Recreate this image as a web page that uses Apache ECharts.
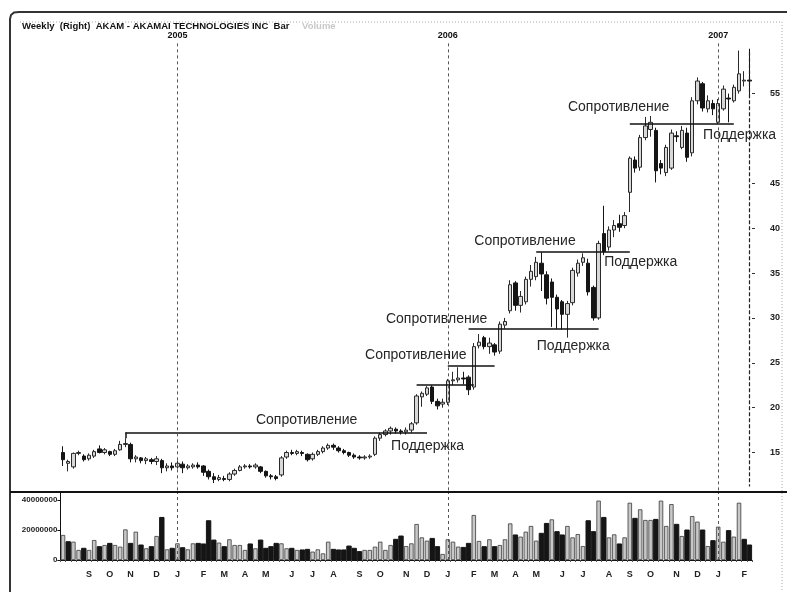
<!DOCTYPE html>
<html>
<head>
<meta charset="utf-8">
<script src="https://cdn.jsdelivr.net/npm/echarts@6/dist/echarts.min.js"></script>
<style>
  html, body { margin: 0; padding: 0; background: #fff; }
  #chart { width: 787px; height: 592px; }
</style>
</head>
<body>
<div id="chart"></div>
<script>
// weekly bars, AKAM, Aug 2004 - Feb 2007
var firstWeek = '2004-08-02';
var opens = [
  15.0, 13.8, 13.4, 14.9, 14.6, 14.3, 14.6, 15.4, 15.0, 15.1,
  14.8, 15.3, 15.9, 15.9, 14.3, 14.4, 14.1, 14.2, 14.0, 14.1,
  13.3, 13.5, 13.4, 13.7, 13.3, 13.4, 13.6, 13.5, 12.9, 12.3,
  12.0, 12.1, 12.0, 12.6, 13.0, 13.4, 13.5, 13.4, 13.4, 12.9,
  12.4, 12.3, 12.5, 14.5, 15.0, 14.9, 15.0, 14.8, 14.3, 14.8,
  15.1, 15.5, 15.8, 15.5, 15.2, 15.0, 14.7, 14.5, 14.4, 14.5,
  14.8, 16.6, 17.0, 17.4, 17.6, 17.4, 17.3, 17.5, 18.3, 21.2,
  21.5, 22.3, 20.7, 20.4, 20.6, 23.0, 23.1, 23.3, 23.4, 22.3,
  26.9, 27.8, 26.8, 27.0, 26.3, 29.2, 30.8, 33.9, 31.4, 31.8,
  34.3, 34.6, 36.1, 34.8, 34.0, 32.3, 31.8, 30.4, 31.7, 35.0,
  36.2, 36.1, 33.4, 30.0, 39.4, 37.9, 39.8, 40.5, 40.3, 44.0,
  47.6, 46.8, 50.1, 51.0, 50.9, 47.2, 46.2, 46.7, 50.3, 49.0,
  50.6, 48.4, 54.2, 56.1, 53.3, 53.9, 51.8, 53.3, 54.5, 54.2,
  55.3, 56.4, 56.5
];
var closes = [
  14.2, 14.0, 14.9, 15.0, 14.2, 14.7, 15.1, 15.0, 15.3, 14.8,
  15.2, 15.9, 16.0, 14.3, 14.5, 14.1, 14.3, 14.0, 14.3, 13.3,
  13.5, 13.3, 13.8, 13.3, 13.5, 13.6, 13.4, 12.8, 12.3, 12.0,
  12.2, 12.0, 12.6, 13.0, 13.4, 13.5, 13.4, 13.6, 12.9, 12.4,
  12.3, 12.1, 14.4, 15.0, 14.9, 15.1, 14.9, 14.2, 14.8, 15.1,
  15.5, 15.8, 15.6, 15.2, 15.0, 14.7, 14.5, 14.4, 14.5, 14.6,
  16.6, 17.0, 17.4, 17.7, 17.4, 17.3, 17.5, 18.2, 21.3, 21.6,
  22.2, 20.7, 20.2, 20.6, 23.0, 23.1, 23.3, 23.2, 22.0, 26.8,
  27.3, 26.8, 27.2, 26.2, 29.3, 29.6, 33.7, 31.4, 32.4, 34.3,
  35.2, 36.2, 34.9, 32.2, 32.3, 31.0, 30.4, 31.6, 35.3, 36.1,
  36.7, 32.9, 30.0, 38.3, 37.4, 39.8, 40.3, 40.1, 41.4, 47.8,
  46.7, 50.1, 51.4, 51.8, 46.4, 46.7, 49.0, 50.6, 50.2, 50.9,
  47.9, 54.2, 56.4, 53.4, 54.2, 53.3, 53.9, 55.5, 54.4, 55.7,
  57.2, 56.5, 56.4
];
var lows = [
  13.5, 12.9, 13.2, 14.7, 14.0, 14.1, 14.4, 14.9, 14.8, 14.6,
  14.6, 15.2, 15.6, 13.9, 13.9, 13.8, 13.7, 13.7, 13.6, 12.7,
  12.9, 13.0, 13.2, 12.7, 13.1, 13.2, 13.2, 12.4, 12.0, 11.6,
  11.8, 11.8, 11.8, 12.4, 12.9, 13.2, 13.2, 13.2, 12.7, 12.2,
  12.0, 11.9, 12.3, 14.3, 14.7, 14.7, 14.6, 14.0, 14.1, 14.6,
  14.9, 15.3, 15.3, 15.0, 14.8, 14.5, 14.3, 14.2, 14.2, 14.3,
  14.6, 16.3, 16.8, 17.0, 17.1, 17.0, 17.0, 17.2, 18.1, 20.1,
  21.3, 20.4, 19.8, 20.0, 20.3, 22.5, 22.8, 22.6, 21.4, 22.0,
  26.6, 26.5, 26.0, 25.8, 26.0, 28.8, 30.5, 30.8, 30.6, 31.5,
  33.5, 34.2, 33.0, 31.5, 29.0, 28.8, 28.7, 27.8, 31.4, 34.6,
  35.8, 32.5, 29.7, 29.8, 37.0, 37.5, 39.0, 39.6, 40.0, 41.8,
  46.2, 46.4, 49.8, 50.2, 45.1, 46.0, 45.8, 46.5, 49.6, 48.8,
  47.4, 48.0, 53.8, 53.0, 52.9, 52.6, 51.6, 53.1, 51.8, 54.0,
  55.0, 55.8, 54.5
];
var highs = [
  15.7, 14.2, 15.0, 15.2, 14.8, 14.9, 15.3, 15.8, 15.5, 15.2,
  15.4, 16.3, 16.6, 16.1, 14.7, 14.5, 14.5, 14.4, 14.6, 14.3,
  13.8, 13.9, 14.1, 14.0, 13.7, 13.8, 13.9, 13.6, 13.1, 12.7,
  12.5, 12.4, 12.8, 13.2, 13.6, 13.7, 13.7, 13.8, 13.5, 13.0,
  12.6, 12.5, 14.6, 15.2, 15.3, 15.3, 15.2, 14.9, 15.0, 15.3,
  15.7, 16.0, 16.0, 15.7, 15.4, 15.1, 14.9, 14.7, 14.7, 14.8,
  16.8, 17.2, 17.6, 17.9, 17.8, 17.6, 17.8, 18.4, 21.5, 21.8,
  22.4, 22.5, 21.0, 21.0, 23.2, 24.0, 24.5, 24.0, 23.6, 27.2,
  28.2, 28.0, 27.8, 27.2, 29.6, 30.0, 34.2, 34.1, 33.0, 34.6,
  35.9, 36.8, 37.3, 35.2, 34.4, 32.6, 32.0, 31.9, 35.6, 36.5,
  37.2, 36.6, 33.6, 38.6, 42.5, 40.2, 40.9, 41.5, 41.8, 48.0,
  48.0, 50.4, 52.4, 52.5, 51.2, 47.6, 49.3, 51.0, 50.8, 51.4,
  51.2, 54.6, 56.8, 56.3, 54.8, 54.3, 54.4, 55.9, 55.0, 56.0,
  59.8, 57.5, 60.0
];
// volume in millions of shares
var volumes = [
  16.7, 12.2, 12.2, 6.7, 7.8, 6.7, 13.3, 8.9, 10.0, 11.1,
  10.0, 8.9, 20.4, 11.1, 18.9, 10.0, 7.8, 8.9, 16.0, 28.4,
  7.1, 7.8, 11.1, 8.2, 7.1, 11.1, 11.1, 10.7, 26.2, 13.3,
  11.6, 8.9, 13.8, 10.0, 10.0, 6.7, 10.7, 7.8, 13.3, 7.8,
  8.9, 11.1, 11.1, 7.8, 7.8, 6.7, 6.7, 7.1, 5.6, 7.1,
  4.4, 12.2, 7.1, 6.7, 6.7, 9.3, 7.8, 5.6, 6.7, 6.7,
  8.9, 12.2, 6.7, 10.0, 13.8, 16.0, 9.3, 11.1, 24.0, 15.1,
  12.9, 14.4, 8.9, 4.0, 13.8, 12.2, 8.9, 8.4, 11.1, 30.0,
  12.7, 8.9, 13.8, 8.9, 10.0, 13.8, 24.4, 16.7, 15.6, 18.9,
  22.7, 12.9, 17.8, 24.4, 27.1, 18.9, 16.7, 22.7, 15.1, 17.3,
  9.3, 26.2, 18.9, 39.6, 28.4, 15.1, 17.1, 10.7, 15.1, 38.2,
  27.8, 33.8, 26.7, 26.7, 27.1, 39.6, 22.7, 37.3, 23.8, 16.0,
  20.0, 29.3, 25.6, 20.0, 9.3, 12.9, 22.2, 12.2, 19.6, 15.6,
  38.2, 13.8, 10.0
];
var priceTicks = [15, 20, 25, 30, 35, 40, 45, 55];
var volumeTicks = [0, 20000000, 40000000];
var monthLetters = ['J', 'F', 'M', 'A', 'M', 'J', 'J', 'A', 'S', 'O', 'N', 'D'];
// [from week, to week, price]
var levels = [
  [12, 70, 17.22],
  [68, 79, 22.56],
  [74, 83, 24.67],
  [78, 103, 28.78],
  [91, 109, 37.33],
  [109, 129, 51.67]
];
// [text, week, price]
var notes = [
  ['Сопротивление', 37, 18.6],
  ['Поддержка', 63, 15.7],
  ['Сопротивление', 58, 25.9],
  ['Сопротивление', 62, 29.9],
  ['Поддержка', 91, 26.9],
  ['Сопротивление', 79, 38.6],
  ['Поддержка', 104, 36.2],
  ['Сопротивление', 97, 53.5],
  ['Поддержка', 123, 50.4]
];

var weeks = [];
var t0 = Date.parse(firstWeek + 'T00:00:00Z');
for (var i = 0; i < closes.length; i++) {
  weeks.push(new Date(t0 + i * 7 * 86400000).toISOString().slice(0, 10));
}
var candles = [];
var volData = [];
for (var i = 0; i < closes.length; i++) {
  candles.push([opens[i], closes[i], lows[i], highs[i]]);
  var down = i > 0 && closes[i] < closes[i - 1];
  volData.push({
    value: volumes[i] * 1000000,
    itemStyle: down ? { color: '#151515', borderColor: '#151515' } : { color: '#c8c8c8', borderColor: '#3a3a3a', borderWidth: 0.8 }
  });
}
var yearIdx = [];
weeks.forEach(function (w, i) {
  if (w.slice(5, 7) === '01' && +w.slice(8, 10) <= 7) yearIdx.push(i);
});

var dashed = { color: '#555', type: [3, 3], width: 1 };
var priceLines = levels.map(function (l) {
  return [{ coord: [l[0], l[2]] }, { coord: [l[1], l[2]] }];
});
priceLines.push([{ coord: [12, 17.22] }, { coord: [12, 16.6] }]);
yearIdx.forEach(function (idx) {
  priceLines.push([
    { name: weeks[idx].slice(0, 4), coord: [idx, 60.6], lineStyle: dashed,
      label: { show: true, position: 'start', formatter: '{b}', distance: 3,
               fontSize: 9, fontWeight: 'bold', color: '#111', fontFamily: 'Liberation Sans' } },
    { coord: [idx, 10.6] }
  ]);
});
var last = closes.length - 1;
priceLines.push([
  { coord: [last, 59.6], lineStyle: { color: '#222', type: [4, 2], width: 1.2 } },
  { coord: [last, 11.2] }
]);

var chart = echarts.init(document.getElementById('chart'));
chart.setOption({
  animation: false,
  backgroundColor: '#fff',
  textStyle: { fontFamily: 'Liberation Sans' },
  grid: [
    { left: 60.4, right: 35, top: 29, bottom: 100 },
    { left: 60.4, right: 35, top: 493, bottom: 32 }
  ],
  xAxis: [
    { type: 'category', gridIndex: 0, data: weeks, show: false },
    {
      type: 'category', gridIndex: 1, data: weeks,
      axisLine: { lineStyle: { color: '#111', width: 1 } },
      axisTick: { show: true, interval: 0, length: 2, lineStyle: { color: '#555' } },
      axisLabel: {
        interval: function (index, value) { return index > 0 && +value.slice(8, 10) <= 7; },
        formatter: function (value) { return monthLetters[+value.slice(5, 7) - 1]; },
        margin: 10, fontSize: 9, fontWeight: 'bold', color: '#222'
      }
    }
  ],
  yAxis: [
    {
      type: 'value', gridIndex: 0, position: 'right', min: 10.6, max: 62.2,
      splitLine: { show: false }, axisLine: { show: false },
      axisTick: { show: true, length: 3, customValues: priceTicks, lineStyle: { color: '#333' } },
      axisLabel: { customValues: priceTicks, margin: 18, fontSize: 9, fontWeight: 'bold', color: '#222' }
    },
    {
      type: 'value', gridIndex: 1, position: 'left', min: 0, max: 44700000,
      splitLine: { show: false },
      axisLine: { show: true, lineStyle: { color: '#111' } },
      axisTick: { show: true, length: 3, customValues: volumeTicks, lineStyle: { color: '#111' } },
      axisLabel: {
        customValues: volumeTicks, margin: 3, fontSize: 8, fontWeight: 'bold', color: '#222',
        formatter: function (v) { return String(v); }
      }
    }
  ],
  series: [
    {
      type: 'candlestick', xAxisIndex: 0, yAxisIndex: 0, data: candles,
      barWidth: 4,
      itemStyle: { color: '#d8d8d8', color0: '#151515', borderColor: '#2a2a2a', borderColor0: '#151515', borderWidth: 1 },
      markLine: {
        silent: true, symbol: ['none', 'none'],
        label: { show: false },
        lineStyle: { color: '#111', type: 'solid', width: 1.5 },
        data: priceLines
      },
      markPoint: {
        silent: true, symbol: 'circle', symbolSize: 1,
        itemStyle: { color: 'rgba(0,0,0,0)' },
        label: { show: true, position: 'right', distance: 0, formatter: '{b}',
                 fontSize: 14, color: '#262626', fontFamily: 'Liberation Sans' },
        data: notes.map(function (n) { return { name: n[0], coord: [n[1], n[2]] }; })
      }
    },
    {
      type: 'bar', xAxisIndex: 1, yAxisIndex: 1, data: volData, barWidth: 4.4,
      markLine: {
        silent: true, symbol: ['none', 'none'], label: { show: false },
        lineStyle: dashed,
        data: yearIdx.map(function (idx) { return { xAxis: idx }; })
      }
    }
  ],
  graphic: [
    { type: 'polyline', shape: { points: [[10, 592], [10, 19], [11, 15], [14, 12.5], [19, 12], [787, 12]] },
      style: { fill: null, stroke: '#333', lineWidth: 2 } },
    { type: 'line', shape: { x1: 20, y1: 22, x2: 782, y2: 22 },
      style: { stroke: '#aaa', lineWidth: 1, lineDash: [1, 2] } },
    { type: 'line', shape: { x1: 782, y1: 22, x2: 782, y2: 592 },
      style: { stroke: '#aaa', lineWidth: 1, lineDash: [1, 2] } },
    { type: 'line', shape: { x1: 10, y1: 492, x2: 787, y2: 492 },
      style: { stroke: '#111', lineWidth: 2 } },
    { type: 'text', left: 22, top: 21,
      style: { text: 'Weekly  (Right)  AKAM - AKAMAI TECHNOLOGIES INC  Bar', font: 'bold 9.5px "Liberation Sans"', fill: '#111' } },
    { type: 'text', left: 302, top: 21,
      style: { text: 'Volume', font: 'bold 9.5px "Liberation Sans"', fill: '#c8c8c8' } }
  ]
});
</script>
</body>
</html>
